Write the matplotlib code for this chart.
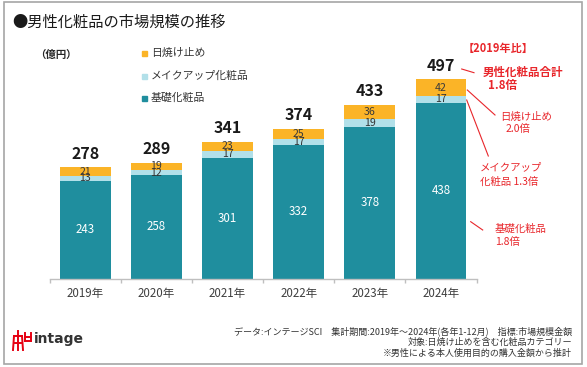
import matplotlib
matplotlib.use("Agg")
import matplotlib.pyplot as plt
from matplotlib.patches import Rectangle
from matplotlib.lines import Line2D

plt.rcParams['font.family'] = ['Noto Sans CJK JP', 'DejaVu Sans']

# ---- data ----
years = ["2019年", "2020年", "2021年", "2022年", "2023年", "2024年"]
basic = [243, 258, 301, 332, 378, 438]        # 基礎化粧品
makeup = [13, 12, 17, 17, 19, 17]             # メイクアップ化粧品
sunscreen = [21, 19, 23, 25, 36, 42]          # 日焼け止め
totals = [278, 289, 341, 374, 433, 497]
series_names = ["日焼け止め", "メイクアップ化粧品", "基礎化粧品"]

C_BASIC = "#1F8E9E"
C_MAKEUP = "#B2E0E9"
C_SUN = "#FBB427"
RED = "#E8262B"
TXT = "#404040"

W, H = 587, 367
fig = plt.figure(figsize=(W / 100, H / 100), dpi=100)
fig.patch.set_facecolor("white")


def px(x, y):
    return (x / W, 1 - y / H)


# frame
fig.add_artist(Rectangle(px(3.5, 363.5), (582 - 3.5) / W, (363.5 - 1.5) / H,
                         transform=fig.transFigure, fill=False,
                         edgecolor="#A6A6A6", linewidth=1.2))

# axes
ax = fig.add_axes([49.6 / W, (H - 278.5) / H, 427 / W, 540 * 0.401 / H])
x = list(range(len(years)))
bw = 0.716
ax.bar(x, basic, width=bw, color=C_BASIC, zorder=2)
bottom2 = basic
ax.bar(x, makeup, width=bw, bottom=bottom2, color=C_MAKEUP, zorder=2)
bottom3 = [a + b for a, b in zip(basic, makeup)]
ax.bar(x, sunscreen, width=bw, bottom=bottom3, color=C_SUN, zorder=2)

ax.set_xlim(-0.5, len(years) - 0.5)
ax.set_ylim(0, 540)
for s in ["top", "right", "left"]:
    ax.spines[s].set_visible(False)
ax.spines["bottom"].set_color("#BFBFBF")
ax.spines["bottom"].set_linewidth(1.0)
ax.set_yticks([])
ax.set_xticks(x)
ax.set_xticklabels(years, fontsize=8.3, color=TXT)
ax.tick_params(axis="x", which="major", length=0, pad=6)
ax.set_xticks([i - 0.5 for i in range(len(years) + 1)], minor=True)
ax.tick_params(axis="x", which="minor", length=3, color="#BFBFBF", width=1)

# segment labels
for i in x:
    ax.text(i, basic[i] / 2, str(basic[i]), ha="center", va="center",
            color="white", fontsize=8.3)
    ax.text(i, bottom2[i] + makeup[i] / 2, str(makeup[i]), ha="center",
            va="center", color="#333333", fontsize=7.6)
    ax.text(i, bottom3[i] + sunscreen[i] / 2, str(sunscreen[i]), ha="center",
            va="center", color="#3a3a3a", fontsize=7.6)
    top = bottom3[i] + sunscreen[i]
    ax.annotate(str(totals[i]), (i, top), xytext=(0, 4),
                textcoords="offset points", ha="center", va="bottom",
                fontsize=11.5, fontweight="bold", color="#1a1a1a")

# title
fig.text(*px(12, 22), "●男性化粧品の市場規模の推移", fontsize=11,
         color="#1a1a1a", va="center", ha="left")
fig.text(*px(35, 55), "（億円）", fontsize=7.5, fontweight="bold",
         color="#262626", va="center", ha="left")

# legend (manual)
leg_colors = [C_SUN, C_MAKEUP, C_BASIC]
leg_y = [53, 76, 98]
for name, col, yy in zip(series_names, leg_colors, leg_y):
    fig.add_artist(Rectangle(px(142, yy + 2.5), 5 / W, 5 / H,
                             transform=fig.transFigure, color=col))
    fig.text(*px(151, yy), name, fontsize=7.8, color="#333333",
             va="center", ha="left")

# red annotations
fig.text(*px(463, 48), "【2019年比】", fontsize=8, fontweight="bold",
         color=RED, va="center", ha="left")
fig.text(*px(483, 72), "男性化粧品合計", fontsize=8.3, fontweight="bold",
         color=RED, va="center", ha="left")
fig.text(*px(488, 85), "1.8倍", fontsize=8.3, fontweight="bold",
         color=RED, va="center", ha="left")
fig.text(*px(500, 117), "日焼け止め", fontsize=7.5, color=RED,
         va="center", ha="left")
fig.text(*px(506, 129), "2.0倍", fontsize=7.5, color=RED,
         va="center", ha="left")
fig.text(*px(480, 167), "メイクアップ", fontsize=7.5, color=RED,
         va="center", ha="left")
fig.text(*px(480, 182), "化粧品 1.3倍", fontsize=7.5, color=RED,
         va="center", ha="left")
fig.text(*px(495, 229), "基礎化粧品", fontsize=7.5, color=RED,
         va="center", ha="left")
fig.text(*px(495, 242), "1.8倍", fontsize=7.5, color=RED,
         va="center", ha="left")

for (x0, y0), (x1, y1) in [((461.7, 69), (474, 72.7)),
                           ((467.3, 90), (495, 115)),
                           ((466.7, 100), (488.3, 156)),
                           ((470.7, 221.7), (482.7, 230))]:
    a, b = px(x0, y0)
    c, d = px(x1, y1)
    fig.add_artist(Line2D([a, c], [b, d], transform=fig.transFigure,
                          color=RED, linewidth=0.8))

# footnotes
notes = ["データ:インテージSCI　集計期間:2019年～2024年(各年1-12月)　指標:市場規模金額",
         "対象:日焼け止めを含む化粧品カテゴリー",
         "※男性による本人使用目的の購入金額から推計"]
for t, yy in zip(notes, [331, 342, 353]):
    fig.text(*px(572, yy), t, fontsize=6.5, color="#333333",
             va="center", ha="right")

# logo
fig.text(*px(34, 339), "intage", fontsize=10, fontweight="bold",
         color="#333333", va="center", ha="left", family="DejaVu Sans")
logo_strokes = [
    [(18, 331), (18, 350)],
    [(14, 336), (22, 336)],
    [(14, 336), (13, 350)],
    [(22, 336), (23, 350)],
    [(15, 343), (21, 343)],
    [(25, 333), (25, 341)],
    [(31, 333), (31, 341)],
    [(25, 341), (31, 341)],
    [(25, 337), (31, 337)],
]
for seg in logo_strokes:
    (x0, y0), (x1, y1) = seg
    a, b = px(x0, y0)
    c, d = px(x1, y1)
    fig.add_artist(Line2D([a, c], [b, d], transform=fig.transFigure,
                          color="#E60012", linewidth=1.4))

fig.savefig("out.png", dpi=100, facecolor="white")
